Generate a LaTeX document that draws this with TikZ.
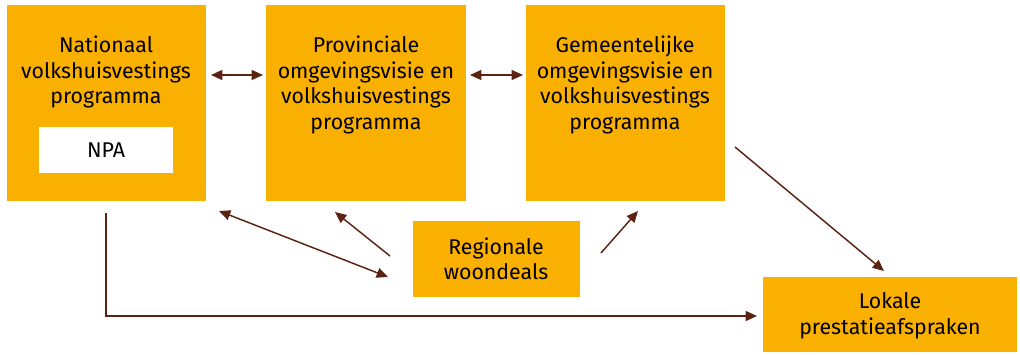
\documentclass[tikz,border=0pt]{standalone}
\usepackage{fontspec}
\setmainfont{Fira Sans}
\usetikzlibrary{arrows.meta}
\definecolor{boxor}{HTML}{F9B000}
\definecolor{arr}{HTML}{5C2212}
\begin{document}
\begin{tikzpicture}[x=0.75pt,y=-0.75pt,
  box/.style={draw=none,fill=boxor,anchor=north west,inner sep=0pt},
  lbl/.style={align=center,font=\fontsize{16}{19.2}\selectfont,inner sep=0pt,text=black},
  conn/.style={draw=arr,line width=1.1pt,-{Triangle[length=8.5pt,width=7.5pt]}},
  dconn/.style={draw=arr,line width=1.1pt,{Triangle[length=8.5pt,width=7.5pt]}-{Triangle[length=8.5pt,width=7.5pt]}}]
\useasboundingbox (0,0) rectangle (1020,354);
% boxes
\node[box,minimum width=199*0.75pt,minimum height=196*0.75pt] (nat) at (7,5) {};
\node[box,fill=white,minimum width=134*0.75pt,minimum height=46*0.75pt] (npa) at (39,127) {};
\node[lbl] (npat) at (106,150) {NPA};
\node[box,minimum width=200*0.75pt,minimum height=196*0.75pt] (prov) at (266,5) {};
\node[box,minimum width=199*0.75pt,minimum height=196*0.75pt] (gem) at (526,5) {};
\node[box,minimum width=167*0.75pt,minimum height=76*0.75pt] (reg) at (413,221) {};
\node[box,minimum width=254*0.75pt,minimum height=75*0.75pt] (lok) at (763,277) {};
% labels
\node[lbl] (natt) at (106,72) {Nationaal\\volkshuisvestings\\programma};
\node[lbl] (provt) at (366,85) {Provinciale\\omgevingsvisie en\\volkshuisvestings\\programma};
\node[lbl] (gemt) at (625,85) {Gemeentelijke\\omgevingsvisie en\\volkshuisvestings\\programma};
\node[lbl] (regt) at (496,259) {Regionale\\woondeals};
\node[lbl] (lokt) at (890,316) {Lokale\\prestatieafspraken};
% connector endpoints
\coordinate (a1) at (211,75); \coordinate (a2) at (263,75);
\coordinate (b1) at (470,75); \coordinate (b2) at (523,75);
\coordinate (c1) at (388,277); \coordinate (c2) at (219,211);
\coordinate (d1) at (390,256); \coordinate (d2) at (335,212);
\coordinate (e1) at (601,253); \coordinate (e2) at (638,211);
\coordinate (f1) at (735,147); \coordinate (f2) at (884,271);
\coordinate (g1) at (106,213); \coordinate (g2) at (106,316); \coordinate (g3) at (757,316);
\draw[dconn] (a1) -- (a2);
\draw[dconn] (b1) -- (b2);
\draw[dconn] (c1) -- (c2);
\draw[conn] (d1) -- (d2);
\draw[conn] (e1) -- (e2);
\draw[conn] (f1) -- (f2);
\draw[conn] (g1) -- (g2) -- (g3);
\end{tikzpicture}
\end{document}
